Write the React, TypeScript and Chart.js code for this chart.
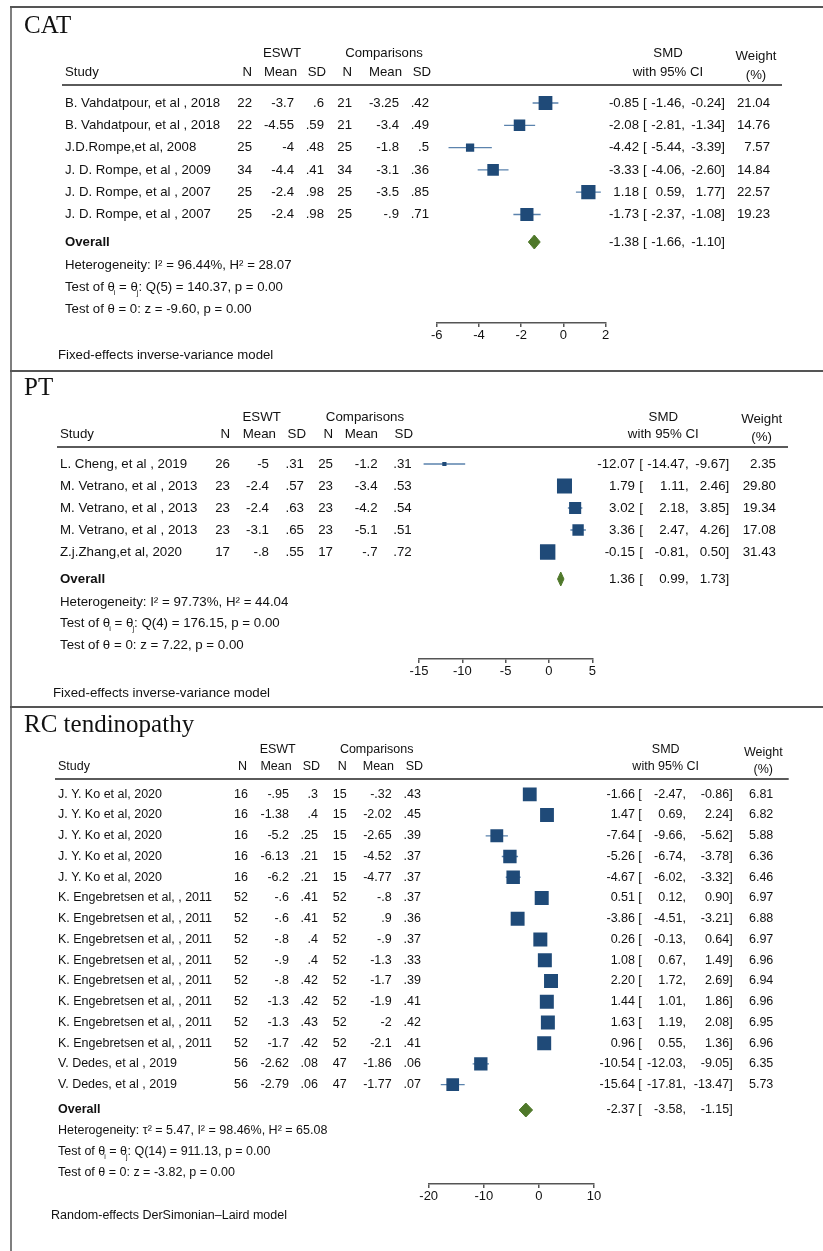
import React, { useEffect, useRef } from 'react';
import { Chart, registerables } from 'chart.js';

Chart.register(...registerables);

const FONT = '"Liberation Sans", Arial, sans-serif';
const SERIF = '"Liberation Serif", "Times New Roman", serif';
const SQUARE = '#1f4a78';
const CI_COLOR = '#5b83ad';
const DIAMOND = '#4f782a';
const RULE = '#555555';
const TEXT = '#111111';

// ---------------- CAT ----------------
const catStudies = [
  'B. Vahdatpour, et al , 2018',
  'B. Vahdatpour, et al , 2018',
  'J.D.Rompe,et al, 2008',
  'J. D. Rompe, et al , 2009',
  'J. D. Rompe, et al , 2007',
  'J. D. Rompe, et al , 2007',
];
const catEswtN = [22, 22, 25, 34, 25, 25];
const catEswtMean = [-3.7, -4.55, -4, -4.4, -2.4, -2.4];
const catEswtSD = [0.6, 0.59, 0.48, 0.41, 0.98, 0.98];
const catCompN = [21, 21, 25, 34, 25, 25];
const catCompMean = [-3.25, -3.4, -1.8, -3.1, -3.5, -0.9];
const catCompSD = [0.42, 0.49, 0.5, 0.36, 0.85, 0.71];
const catSmd = [-0.85, -2.08, -4.42, -3.33, 1.18, -1.73];
const catLo = [-1.46, -2.81, -5.44, -4.06, 0.59, -2.37];
const catHi = [-0.24, -1.34, -3.39, -2.6, 1.77, -1.08];
const catWeight = [21.04, 14.76, 7.57, 14.84, 22.57, 19.23];
const catOverall = [-1.38, -1.66, -1.1];
const catTicks = [-6, -4, -2, 0, 2];
const catHeterogeneity = 'Heterogeneity: I² = 96.44%, H² = 28.07';
const catQ = ': Q(5) = 140.37, p = 0.00';
const catZ = 'Test of θ = 0: z = -9.60, p = 0.00';
const catModel = 'Fixed-effects inverse-variance model';

// ---------------- PT ----------------
const ptStudies = [
  'L. Cheng, et al , 2019',
  'M. Vetrano, et al , 2013',
  'M. Vetrano, et al , 2013',
  'M. Vetrano, et al , 2013',
  'Z.j.Zhang,et al, 2020',
];
const ptEswtN = [26, 23, 23, 23, 17];
const ptEswtMean = [-5, -2.4, -2.4, -3.1, -0.8];
const ptEswtSD = [0.31, 0.57, 0.63, 0.65, 0.55];
const ptCompN = [25, 23, 23, 23, 17];
const ptCompMean = [-1.2, -3.4, -4.2, -5.1, -0.7];
const ptCompSD = [0.31, 0.53, 0.54, 0.51, 0.72];
const ptSmd = [-12.07, 1.79, 3.02, 3.36, -0.15];
const ptLo = [-14.47, 1.11, 2.18, 2.47, -0.81];
const ptHi = [-9.67, 2.46, 3.85, 4.26, 0.5];
const ptWeight = [2.35, 29.8, 19.34, 17.08, 31.43];
const ptOverall = [1.36, 0.99, 1.73];
const ptTicks = [-15, -10, -5, 0, 5];
const ptHeterogeneity = 'Heterogeneity: I² = 97.73%, H² = 44.04';
const ptQ = ': Q(4) = 176.15, p = 0.00';
const ptZ = 'Test of θ = 0: z = 7.22, p = 0.00';
const ptModel = 'Fixed-effects inverse-variance model';

// ---------------- RC tendinopathy ----------------
const rcStudies = [
  'J. Y. Ko et al, 2020',
  'J. Y. Ko et al, 2020',
  'J. Y. Ko et al, 2020',
  'J. Y. Ko et al, 2020',
  'J. Y. Ko et al, 2020',
  'K. Engebretsen et al, , 2011',
  'K. Engebretsen et al, , 2011',
  'K. Engebretsen et al, , 2011',
  'K. Engebretsen et al, , 2011',
  'K. Engebretsen et al, , 2011',
  'K. Engebretsen et al, , 2011',
  'K. Engebretsen et al, , 2011',
  'K. Engebretsen et al, , 2011',
  'V. Dedes, et al , 2019',
  'V. Dedes, et al , 2019',
];
const rcEswtN = [16, 16, 16, 16, 16, 52, 52, 52, 52, 52, 52, 52, 52, 56, 56];
const rcEswtMean = [-0.95, -1.38, -5.2, -6.13, -6.2, -0.6, -0.6, -0.8, -0.9, -0.8, -1.3, -1.3, -1.7, -2.62, -2.79];
const rcEswtSD = [0.3, 0.4, 0.25, 0.21, 0.21, 0.41, 0.41, 0.4, 0.4, 0.42, 0.42, 0.43, 0.42, 0.08, 0.06];
const rcCompN = [15, 15, 15, 15, 15, 52, 52, 52, 52, 52, 52, 52, 52, 47, 47];
const rcCompMean = [-0.32, -2.02, -2.65, -4.52, -4.77, -0.8, 0.9, -0.9, -1.3, -1.7, -1.9, -2, -2.1, -1.86, -1.77];
const rcCompSD = [0.43, 0.45, 0.39, 0.37, 0.37, 0.37, 0.36, 0.37, 0.33, 0.39, 0.41, 0.42, 0.41, 0.06, 0.07];
const rcSmd = [-1.66, 1.47, -7.64, -5.26, -4.67, 0.51, -3.86, 0.26, 1.08, 2.2, 1.44, 1.63, 0.96, -10.54, -15.64];
const rcLo = [-2.47, 0.69, -9.66, -6.74, -6.02, 0.12, -4.51, -0.13, 0.67, 1.72, 1.01, 1.19, 0.55, -12.03, -17.81];
const rcHi = [-0.86, 2.24, -5.62, -3.78, -3.32, 0.9, -3.21, 0.64, 1.49, 2.69, 1.86, 2.08, 1.36, -9.05, -13.47];
const rcWeight = [6.81, 6.82, 5.88, 6.36, 6.46, 6.97, 6.88, 6.97, 6.96, 6.94, 6.96, 6.95, 6.96, 6.35, 5.73];
const rcOverall = [-2.37, -3.58, -1.15];
const rcTicks = [-20, -10, 0, 10];
const rcHeterogeneity = 'Heterogeneity: τ² = 5.47, I² = 98.46%, H² = 65.08';
const rcQ = ': Q(14) = 911.13, p = 0.00';
const rcZ = 'Test of θ = 0: z = -3.82, p = 0.00';
const rcModel = 'Random-effects DerSimonian–Laird model';

const colHeaders = ['N', 'Mean', 'SD', 'N', 'Mean', 'SD'];

type Layout = {
  frameTopY: number;
  titleBase: number;
  studyX: number;
  colR: number[];
  headR: number[];
  eswtCX: number;
  compCX: number;
  head1Y: number;
  head2Y: number;
  ruleY: number;
  ruleX0: number;
  ruleX1: number;
  row0Y: number;
  rowStep: number;
  overallY: number;
  statsY: number[];
  axisY: number;
  axisX0: number;
  axisX1: number;
  footerX: number;
  footerY: number;
  smdEstR: number;
  smdBrL: number;
  smdLoR: number;
  smdHiR: number;
  weightR: number;
  smdCX: number;
  weightCX: number;
  weightY1: number;
  weightY2: number;
  k: number;
  fs: number;
};

type PanelCfg = {
  top: number;
  height: number;
  title: string;
  studies: string[];
  eN: number[];
  eMean: number[];
  eSD: number[];
  cN: number[];
  cMean: number[];
  cSD: number[];
  smd: number[];
  lo: number[];
  hi: number[];
  weight: number[];
  overall: number[];
  ticks: number[];
  het: string;
  q: string;
  z: string;
  model: string;
  L: Layout;
};

const fmtStata = (v: number) => String(v).replace(/^(-?)0\./, '$1.');

const panels: PanelCfg[] = [
  {
    top: 0,
    height: 370,
    title: 'CAT',
    studies: catStudies,
    eN: catEswtN,
    eMean: catEswtMean,
    eSD: catEswtSD,
    cN: catCompN,
    cMean: catCompMean,
    cSD: catCompSD,
    smd: catSmd,
    lo: catLo,
    hi: catHi,
    weight: catWeight,
    overall: catOverall,
    ticks: catTicks,
    het: catHeterogeneity,
    q: catQ,
    z: catZ,
    model: catModel,
    L: {
      frameTopY: 7,
      titleBase: 33,
      studyX: 65,
      colR: [252, 294, 324, 352, 399, 429],
      headR: [252, 297, 326, 352, 402, 431],
      eswtCX: 282,
      compCX: 384,
      head1Y: 53,
      head2Y: 72,
      ruleY: 85,
      ruleX0: 62,
      ruleX1: 782,
      row0Y: 103,
      rowStep: 22.3,
      overallY: 242,
      statsY: [265, 287, 309],
      axisY: 323,
      axisX0: 436.7,
      axisX1: 605.7,
      footerX: 58,
      footerY: 355,
      smdEstR: 639,
      smdBrL: 643,
      smdLoR: 685,
      smdHiR: 725,
      weightR: 770,
      smdCX: 668,
      weightCX: 756,
      weightY1: 56,
      weightY2: 75,
      k: 3.0,
      fs: 13.2,
    },
  },
  {
    top: 370,
    height: 336,
    title: 'PT',
    studies: ptStudies,
    eN: ptEswtN,
    eMean: ptEswtMean,
    eSD: ptEswtSD,
    cN: ptCompN,
    cMean: ptCompMean,
    cSD: ptCompSD,
    smd: ptSmd,
    lo: ptLo,
    hi: ptHi,
    weight: ptWeight,
    overall: ptOverall,
    ticks: ptTicks,
    het: ptHeterogeneity,
    q: ptQ,
    z: ptZ,
    model: ptModel,
    L: {
      frameTopY: 371,
      titleBase: 395,
      studyX: 60,
      colR: [230, 269, 304, 333, 377.7, 411.7],
      headR: [230, 276, 306, 333, 378, 413],
      eswtCX: 261.7,
      compCX: 365,
      head1Y: 417,
      head2Y: 434,
      ruleY: 447,
      ruleX0: 57,
      ruleX1: 788,
      row0Y: 464,
      rowStep: 22,
      overallY: 579,
      statsY: [602, 623.3, 645.7],
      axisY: 659,
      axisX0: 419,
      axisX1: 592.3,
      footerX: 53,
      footerY: 693,
      smdEstR: 635,
      smdBrL: 639.3,
      smdLoR: 688.7,
      smdHiR: 729.3,
      weightR: 776,
      smdCX: 663.3,
      weightCX: 761.7,
      weightY1: 419.3,
      weightY2: 437.7,
      k: 2.75,
      fs: 13.3,
    },
  },
  {
    top: 706,
    height: 545,
    title: 'RC tendinopathy',
    studies: rcStudies,
    eN: rcEswtN,
    eMean: rcEswtMean,
    eSD: rcEswtSD,
    cN: rcCompN,
    cMean: rcCompMean,
    cSD: rcCompSD,
    smd: rcSmd,
    lo: rcLo,
    hi: rcHi,
    weight: rcWeight,
    overall: rcOverall,
    ticks: rcTicks,
    het: rcHeterogeneity,
    q: rcQ,
    z: rcZ,
    model: rcModel,
    L: {
      frameTopY: 707,
      titleBase: 732,
      studyX: 58,
      colR: [248, 289, 318, 346.7, 391.7, 421],
      headR: [247, 291.7, 320, 346.7, 394, 423],
      eswtCX: 277.7,
      compCX: 376.7,
      head1Y: 750,
      head2Y: 766.7,
      ruleY: 779,
      ruleX0: 55,
      ruleX1: 788.7,
      row0Y: 794.3,
      rowStep: 20.74,
      overallY: 1110,
      statsY: [1130.7, 1151.7, 1172.3],
      axisY: 1184,
      axisX0: 428.7,
      axisX1: 594,
      footerX: 51,
      footerY: 1216,
      smdEstR: 635,
      smdBrL: 638.3,
      smdLoR: 686,
      smdHiR: 732.7,
      weightR: 773.3,
      smdCX: 665.7,
      weightCX: 763.3,
      weightY1: 752.7,
      weightY2: 769.3,
      k: 5.3,
      fs: 12.5,
    },
  },
];

function ForestPanel({ cfg }: { cfg: PanelCfg }) {
  const ref = useRef<HTMLCanvasElement | null>(null);

  useEffect(() => {
    const canvas = ref.current;
    if (!canvas) return;
    const L = cfg.L;
    const top = cfg.top;
    const n = cfg.studies.length;
    const yAt = (py: number) => (py - L.row0Y) / L.rowStep;
    const yMax = yAt(L.axisY);
    const overallV = yAt(L.overallY);
    const axisBoxH = 24;
    const padTop = L.row0Y - 0.5 * L.rowStep - top;
    const padBottom = cfg.height - (L.axisY - top) - axisBoxH;
    const padLeft = L.axisX0;
    const padRight = 823 - L.axisX1;
    const halfH = 7 / L.rowStep;
    const xMin = cfg.ticks[0];
    const xMax = cfg.ticks[cfg.ticks.length - 1];

    const squares = cfg.smd.map((v, i) => ({ x: v, y: i }));
    const radii = cfg.weight.map((w) => (L.k * Math.sqrt(w)) / 2 / Math.SQRT1_2);
    const ciData: { x: number; y: number | null }[] = [];
    cfg.lo.forEach((lo, i) => {
      ciData.push({ x: lo, y: i });
      ciData.push({ x: cfg.hi[i], y: i });
      ciData.push({ x: cfg.hi[i], y: null });
    });
    const [oEst, oLo, oHi] = cfg.overall;
    const diamondData = [
      { x: oLo, y: overallV },
      { x: oEst, y: overallV - halfH },
      { x: oHi, y: overallV },
      { x: oEst, y: overallV + halfH },
      { x: oLo, y: overallV },
    ];

    const font = (sz: number, bold = false) => `${bold ? 'bold ' : ''}${sz}px ${FONT}`;

    const textPlugin = {
      id: 'forestText',
      afterDraw(chart: any) {
        const ctx: CanvasRenderingContext2D = chart.ctx;
        const ys = chart.scales.y;
        const rowY = (v: number) => ys.getPixelForValue(v) + top;
        const fs = L.fs;
        ctx.save();
        ctx.translate(0, -top);

        // frame
        ctx.strokeStyle = RULE;
        ctx.lineWidth = 2;
        ctx.beginPath();
        ctx.moveTo(10, L.frameTopY);
        ctx.lineTo(823, L.frameTopY);
        ctx.stroke();
        ctx.lineWidth = 1.5;
        ctx.beginPath();
        ctx.moveTo(11, L.frameTopY);
        ctx.lineTo(11, top + cfg.height + 1);
        ctx.stroke();

        ctx.fillStyle = TEXT;
        // title
        ctx.font = `25px ${SERIF}`;
        ctx.textBaseline = 'alphabetic';
        ctx.textAlign = 'left';
        ctx.fillText(cfg.title, 24, L.titleBase);

        ctx.textBaseline = 'middle';
        ctx.font = font(fs);
        ctx.textAlign = 'center';
        ctx.fillText('ESWT', L.eswtCX, L.head1Y);
        ctx.fillText('Comparisons', L.compCX, L.head1Y);
        ctx.fillText('SMD', L.smdCX, L.head1Y);
        ctx.fillText('with 95% CI', L.smdCX, L.head2Y);
        ctx.fillText('Weight', L.weightCX, L.weightY1);
        ctx.fillText('(%)', L.weightCX, L.weightY2);
        ctx.textAlign = 'left';
        ctx.fillText('Study', L.studyX, L.head2Y);
        ctx.textAlign = 'right';
        colHeaders.forEach((h, j) => ctx.fillText(h, L.headR[j], L.head2Y));

        // header rule
        ctx.strokeStyle = '#5a5a5a';
        ctx.lineWidth = 1.8;
        ctx.beginPath();
        ctx.moveTo(L.ruleX0, L.ruleY);
        ctx.lineTo(L.ruleX1, L.ruleY);
        ctx.stroke();

        const drawSmd = (est: number, lo: number, hi: number, y: number) => {
          ctx.textAlign = 'right';
          ctx.fillText(est.toFixed(2), L.smdEstR, y);
          ctx.textAlign = 'left';
          ctx.fillText('[', L.smdBrL, y);
          ctx.textAlign = 'right';
          ctx.fillText(lo.toFixed(2) + ',', L.smdLoR, y);
          ctx.fillText(hi.toFixed(2) + ']', L.smdHiR, y);
        };

        for (let i = 0; i < n; i++) {
          const y = rowY(i);
          ctx.textAlign = 'left';
          ctx.fillText(cfg.studies[i], L.studyX, y);
          ctx.textAlign = 'right';
          const vals = [
            String(cfg.eN[i]),
            fmtStata(cfg.eMean[i]),
            fmtStata(cfg.eSD[i]),
            String(cfg.cN[i]),
            fmtStata(cfg.cMean[i]),
            fmtStata(cfg.cSD[i]),
          ];
          vals.forEach((v, j) => ctx.fillText(v, L.colR[j], y));
          drawSmd(cfg.smd[i], cfg.lo[i], cfg.hi[i], y);
          ctx.textAlign = 'right';
          ctx.fillText(cfg.weight[i].toFixed(2), L.weightR, y);
        }

        // overall
        const oy = rowY(overallV);
        ctx.font = font(fs, true);
        ctx.textAlign = 'left';
        ctx.fillText('Overall', L.studyX, oy);
        ctx.font = font(fs);
        drawSmd(oEst, oLo, oHi, oy);

        // stats
        ctx.textAlign = 'left';
        ctx.fillText(cfg.het, L.studyX, L.statsY[0]);
        let cx = L.studyX;
        const y2 = L.statsY[1];
        const seg = (t: string, sub = false) => {
          if (sub) {
            ctx.font = font(fs * 0.55);
            ctx.fillText(t, cx - 1, y2 + fs * 0.45);
            cx += ctx.measureText(t).width - 1;
            ctx.font = font(fs);
          } else {
            ctx.fillText(t, cx, y2);
            cx += ctx.measureText(t).width;
          }
        };
        seg('Test of θ');
        seg('i', true);
        seg(' = θ');
        seg('j', true);
        seg(cfg.q);
        ctx.fillText(cfg.z, L.studyX, L.statsY[2]);

        // footer
        ctx.fillText(cfg.model, L.footerX, L.footerY);

        ctx.restore();
      },
    };

    const chart = new Chart(canvas, {
      type: 'scatter',
      data: {
        datasets: [
          {
            data: squares,
            pointStyle: 'rect',
            pointRadius: radii,
            pointHoverRadius: radii,
            backgroundColor: SQUARE,
            borderColor: SQUARE,
            borderWidth: 0,
            order: 0,
          } as any,
          {
            data: ciData,
            showLine: true,
            spanGaps: false,
            pointRadius: 0,
            borderColor: CI_COLOR,
            borderWidth: 1.3,
            order: 2,
          } as any,
          {
            data: diamondData,
            showLine: true,
            pointRadius: 0,
            fill: 'shape',
            tension: 0,
            backgroundColor: DIAMOND,
            borderColor: DIAMOND,
            borderWidth: 1,
            order: 1,
          } as any,
        ],
      },
      options: {
        animation: false,
        responsive: false,
        devicePixelRatio: 1,
        events: [],
        layout: {
          padding: { left: padLeft, right: padRight, top: padTop, bottom: padBottom },
        },
        plugins: {
          legend: { display: false },
          tooltip: { enabled: false },
        },
        scales: {
          x: {
            type: 'linear',
            min: xMin,
            max: xMax,
            afterBuildTicks: (axis: any) => {
              axis.ticks = cfg.ticks.map((v) => ({ value: v }));
            },
            afterFit: (axis: any) => {
              axis.height = axisBoxH;
            },
            grid: {
              drawOnChartArea: false,
              drawTicks: true,
              tickLength: 4,
              color: RULE,
              lineWidth: 1.5,
            },
            border: { display: true, color: RULE, width: 1.5 },
            ticks: {
              font: { family: FONT, size: 13 },
              color: TEXT,
              padding: 1,
              maxRotation: 0,
              autoSkip: false,
            },
          },
          y: {
            type: 'linear',
            display: false,
            reverse: true,
            min: -0.5,
            max: yMax,
          },
        },
      } as any,
      plugins: [textPlugin],
    });

    return () => chart.destroy();
  }, [cfg]);

  return (
    <canvas
      ref={ref}
      width={823}
      height={cfg.height}
      style={{ position: 'absolute', left: 0, top: cfg.top, width: 823, height: cfg.height, display: 'block' }}
    />
  );
}

export default function App() {
  return (
    <div
      style={{
        position: 'absolute',
        left: 0,
        top: 0,
        width: 823,
        height: 1251,
        background: '#ffffff',
        overflow: 'hidden',
      }}
    >
      {panels.map((p) => (
        <ForestPanel key={p.title} cfg={p} />
      ))}
    </div>
  );
}
